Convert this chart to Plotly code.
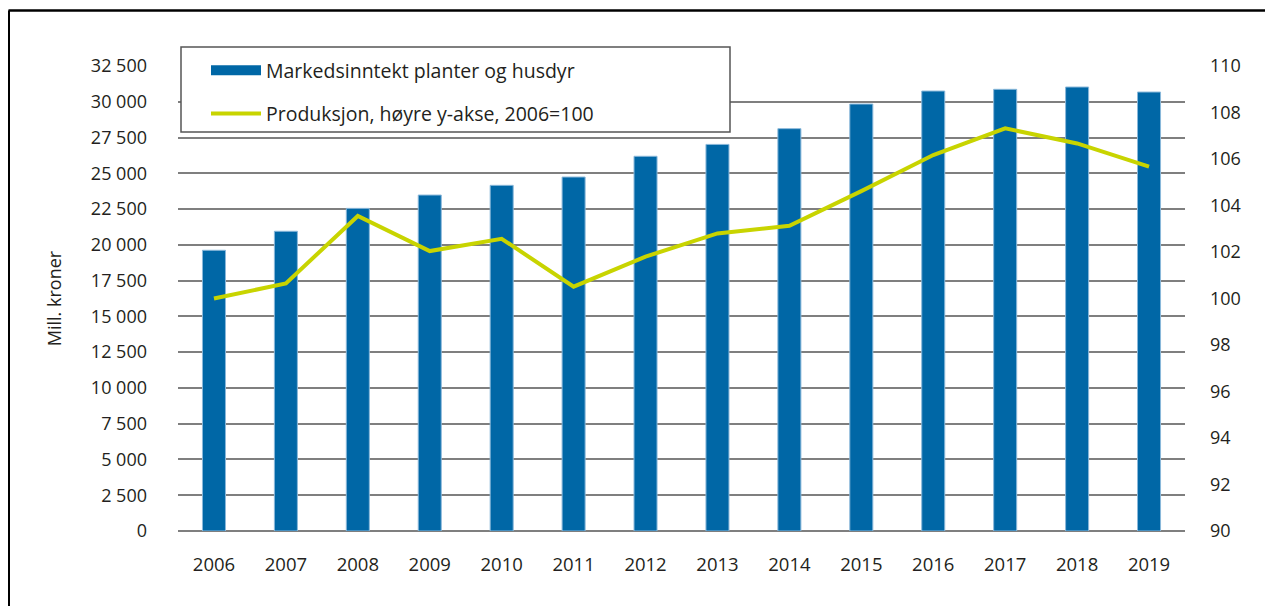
import plotly.graph_objects as go

years = ["2006", "2007", "2008", "2009", "2010", "2011", "2012",
         "2013", "2014", "2015", "2016", "2017", "2018", "2019"]
markedsinntekt = [19620, 20950, 22550, 23480, 24160, 24740, 26190,
                  27020, 28120, 29840, 30750, 30870, 31030, 30680]
produksjon = [100.0, 100.65, 103.55, 102.04, 102.57, 100.51, 101.8,
              102.8, 103.13, 104.62, 106.17, 107.32, 106.67, 105.67]

bar_name = "Markedsinntekt planter og husdyr"
line_name = "Produksjon, høyre y-akse, 2006=100"

FONT = "Open Sans"
TXT = "#231f20"
OFF = 8  # page body margin offset
W, H = 1273, 606
L, R, T, B = 170, 96, 58, 83
pw, ph = W - L - R, H - T - B


def px(x):  # screen x -> paper
    return (x - OFF - L) / pw


def py(y):  # screen y -> paper
    return (H - B - (y - OFF)) / ph


fig = go.Figure()
fig.add_trace(go.Bar(
    x=years, y=markedsinntekt, name=bar_name, showlegend=False,
    marker=dict(color="#0067A6", line=dict(color="#8ab8da", width=1)),
    width=0.32, yaxis="y",
))
# legend entry for bars (wide rectangular key like the original)
fig.add_trace(go.Scatter(
    x=[None], y=[None], name=bar_name, mode="lines", legendgroup="a",
    line=dict(color="#0067A6", width=14), yaxis="y", hoverinfo="skip",
))
fig.add_trace(go.Scatter(
    x=years, y=produksjon, name=line_name, mode="lines", legendgroup="b",
    line=dict(color="#C8D400", width=4), yaxis="y2",
))

shapes = [
    dict(type="rect", xref="paper", yref="paper",
         x0=px(181), x1=px(730), y0=py(132), y1=py(47),
         line=dict(color="#555555", width=1.5), fillcolor="white", layer="above"),
    dict(type="line", xref="paper", yref="paper",
         x0=px(8.5), x1=px(1290), y0=py(10.5), y1=py(10.5),
         line=dict(color="black", width=2.5)),
    dict(type="line", xref="paper", yref="paper",
         x0=px(8.5), x1=px(8.5), y0=py(10.5), y1=py(620),
         line=dict(color="black", width=3)),
]

fig.update_layout(
    width=W, height=H,
    margin=dict(l=L, r=R, t=T, b=B),
    paper_bgcolor="white", plot_bgcolor="white",
    separators=", ",
    font=dict(family=FONT, size=18, color=TXT),
    showlegend=True,
    legend=dict(
        x=px(206), y=py(51), xanchor="left", yanchor="top",
        bgcolor="rgba(0,0,0,0)", borderwidth=0,
        font=dict(family=FONT, size=19.5, color=TXT),
        itemwidth=50, tracegroupgap=15, traceorder="grouped",
    ),
    xaxis=dict(
        type="category", showgrid=False, showline=False, zeroline=False,
        ticks="", ticklabelstandoff=20,
        tickfont=dict(family=FONT, size=18.5, color=TXT),
    ),
    yaxis=dict(
        range=[0, 32500], dtick=2500, tick0=0, tickformat=",d",
        showgrid=True, gridcolor="#7f7f7f", gridwidth=1.5,
        zeroline=True, zerolinecolor="#7f7f7f", zerolinewidth=1.5,
        showline=False, ticks="", ticklabelstandoff=30,
        title=dict(text="Mill. kroner", standoff=24,
                   font=dict(family=FONT, size=18, color=TXT)),
        tickfont=dict(family=FONT, size=18, color=TXT),
    ),
    yaxis2=dict(
        range=[90, 110], dtick=2, tick0=90, overlaying="y", side="right",
        showgrid=False, zeroline=False, showline=False, ticks="",
        ticklabelstandoff=24,
        tickfont=dict(family=FONT, size=18, color=TXT),
    ),
    shapes=shapes,
)

fig.write_html("out.html")
